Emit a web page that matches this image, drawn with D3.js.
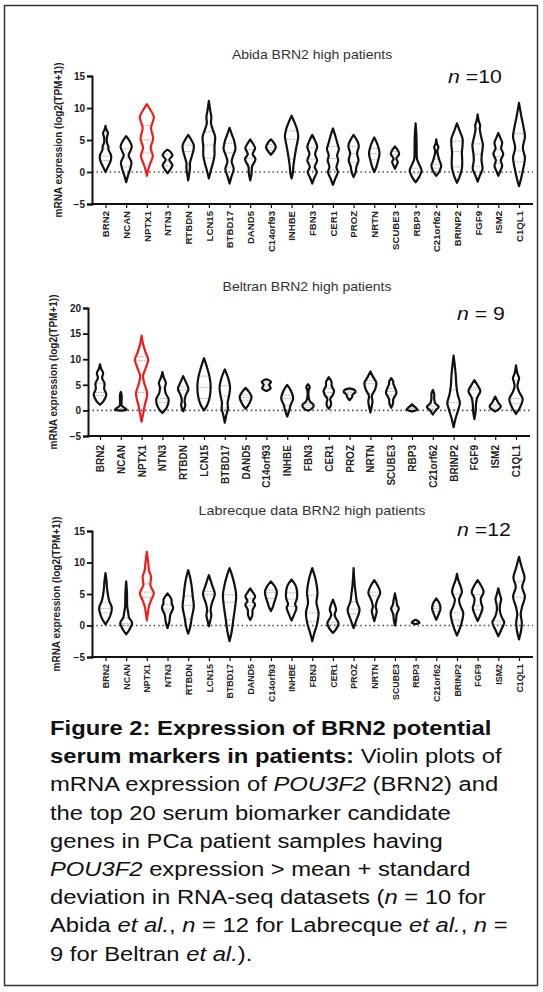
<!DOCTYPE html>
<html>
<head>
<meta charset="utf-8">
<script src="https://cdn.jsdelivr.net/npm/d3@7"></script>
<style>
  body { margin: 0; background: #fff; }
  text { font-family: Arial, "Liberation Sans", sans-serif; }
</style>
</head>
<body>
<svg id="fig" width="543" height="992"></svg>
<script>
// gene order on every x axis
const genes = ["BRN2", "NCAN", "NPTX1", "NTN3", "RTBDN", "LCN15", "BTBD17", "DAND5", "C14orf93", "INHBE",
  "FBN3", "CER1", "PROZ", "NRTN", "SCUBE3", "RBP3", "C21orf62", "BRINP2", "FGF9", "ISM2", "C1QL1"];
const highlightGene = "NPTX1";

// violin outlines: [log2(TPM+1), relative density]
const abidaViolins = [
  [[0,0],[0.8,0.35],[1.8,0.75],[2.6,0.8],[3.4,0.45],[4,0.4],[4.6,0.2],[5.4,0.2],[6.1,0.35],[6.6,0.15],[7.2,0]],
  [[-1.6,0],[-0.6,0.25],[0.6,0.6],[1.5,0.75],[2.6,0.35],[3.4,0.65],[4,0.8],[4.8,0.5],[5.6,0]],
  [[-0.6,0],[0.4,0.2],[1.4,0.5],[2.5,0.85],[3.8,0.55],[5.2,0.9],[6.9,0.6],[8.6,1],[9.8,0.45],[10.6,0]],
  [[-0.2,0],[0.5,0.45],[1.1,0.7],[1.9,0.25],[2.6,0.7],[3.1,0.45],[3.5,0]],
  [[-1.3,0],[-0.3,0.15],[0.6,0.25],[1.4,0.25],[2.4,0.5],[3.4,0.75],[4.2,0.8],[5,0.45],[5.8,0]],
  [[-1,0],[0.3,0.3],[1.5,0.6],[2.6,0.8],[4,0.8],[5.5,0.9],[6.5,0.6],[7.6,0.3],[8.6,0.35],[9.6,0.2],[11.1,0]],
  [[-1.8,0],[-0.8,0.25],[0.5,0.6],[1.6,0.3],[2.5,0.5],[3.6,0.85],[4.7,0.7],[5.8,0.35],[6.9,0]],
  [[-1.3,0],[-0.2,0.2],[0.8,0.25],[2,0.75],[2.8,0.35],[3.7,0.7],[4.4,0.4],[5.1,0]],
  [[2.7,0],[3.3,0.45],[3.9,0.7],[4.5,0.45],[5.1,0]],
  [[-1,0],[0,0.2],[0.8,0.25],[2.4,0.45],[4,0.7],[5.5,0.95],[6.6,0.8],[7.8,0.4],[8.8,0]],
  [[-1.8,0],[-0.9,0.3],[0,0.65],[0.8,0.35],[1.8,0.7],[2.8,0.4],[3.9,0.7],[4.9,0.4],[5.8,0]],
  [[-2,0],[-1,0.35],[0,0.7],[0.8,0.5],[1.8,0.75],[2.6,0.6],[3.6,0.85],[4.6,0.6],[5.8,0.3],[6.8,0]],
  [[-0.8,0],[0,0.3],[0.8,0.4],[1.8,0.7],[2.9,0.5],[4.1,0.75],[5,0.45],[5.8,0]],
  [[0,0],[0.8,0.3],[1.8,0.55],[2.9,0.75],[3.8,0.6],[4.6,0.35],[5.4,0]],
  [[0.5,0],[1.1,0.25],[1.6,0.4],[2.1,0.2],[2.8,0.6],[3.4,0.4],[4,0]],
  [[-1.6,0],[-0.8,0.5],[0.2,0.85],[1.2,0.5],[2,0.2],[3.5,0.15],[5.5,0.12],[7.6,0]],
  [[-0.6,0],[0.1,0.45],[1,0.7],[1.8,0.45],[2.8,0.2],[3.3,0.15],[3.9,0.3],[4.4,0.1],[5.1,0]],
  [[-1.7,0],[-0.8,0.35],[0.5,0.7],[1.8,0.75],[3,0.7],[4.2,0.8],[5.2,0.8],[6.4,0.4],[7.6,0]],
  [[-1.5,0],[-0.6,0.3],[0.5,0.7],[1.8,0.55],[2.8,0.6],[4.2,0.75],[5.5,0.5],[6.7,0.3],[7.3,0.35],[8,0.15],[9,0]],
  [[-0.6,0],[0.2,0.3],[1,0.55],[1.8,0.35],[2.8,0.7],[3.7,0.4],[4.6,0.55],[5.3,0.3],[6.1,0]],
  [[-2.2,0],[-1,0.3],[0.5,0.6],[2.2,0.85],[3.8,0.55],[5.5,0.85],[7,0.65],[8.6,0.35],[10.8,0]]
];
const beltranViolins = [
  [[1.1,0],[1.8,0.5],[3.1,0.9],[4.2,0.6],[5.3,0.65],[6.3,0.3],[7.3,0.45],[8,0.2],[9,0]],
  [[-0.05,0],[0.15,0.85],[0.45,0.6],[0.9,0.15],[2,0.12],[3,0.12],[3.6,0]],
  [[-2.2,0],[-0.8,0.2],[1,0.45],[3.3,0.8],[5.2,0.4],[6.7,0.2],[8.3,0.6],[9.9,0.95],[11.4,0.55],[13,0.2],[14.6,0]],
  [[-0.5,0],[0.5,0.6],[2.1,0.9],[3.4,0.45],[4.4,0.35],[5.4,0.5],[6.4,0.2],[7.5,0]],
  [[-0.2,0],[0.5,0.2],[1.1,0.3],[1.8,0.2],[2.9,0.35],[4.2,0.75],[5.3,0.45],[6.7,0]],
  [[0,0],[1,0.45],[2.5,0.8],[4.5,0.95],[6.5,0.8],[8.3,0.45],[10.2,0]],
  [[-2.4,0],[-1,0.2],[0.4,0.45],[1.5,0.4],[2.8,0.6],[4.5,0.75],[6.2,0.5],[8,0]],
  [[0.3,0],[1.3,0.5],[2.6,0.85],[3.5,0.55],[4.4,0]],
  [[3.8,0],[4.3,0.6],[5,0.4],[5.6,0.65],[6.1,0]],
  [[-1.2,0],[0,0.3],[1.1,0.5],[2.3,0.85],[3.8,0.55],[5,0]],
  [[-0.05,0],[0.4,0.6],[1.1,0.8],[1.7,0.3],[2.5,0.1],[4,0.1],[4.6,0.25],[5.1,0]],
  [[0.3,0],[1,0.3],[1.6,0.3],[2.2,0.2],[3.1,0.6],[3.8,0.75],[4.8,0.4],[5.5,0.4],[6.5,0]],
  [[2,0],[2.6,0.35],[3.1,0.45],[3.6,0.85],[4,0.7],[4.3,0]],
  [[-0.4,0],[0.8,0.2],[1.8,0.3],[2.8,0.2],[4.2,0.7],[5.4,0.85],[6.5,0.4],[7.6,0]],
  [[0.5,0],[1.3,0.25],[2.2,0.3],[3.4,0.75],[4.2,0.6],[5.2,0.3],[5.6,0.3],[6.3,0]],
  [[-0.2,0],[0.15,0.75],[0.5,0.55],[0.9,0.2],[1.2,0]],
  [[-0.8,0],[0,0.4],[0.7,0.85],[1.4,0.35],[2.2,0.2],[3.2,0.2],[4,0]],
  [[-3.3,0],[-1.5,0.3],[0.3,0.7],[1.5,0.9],[3,0.6],[4.8,0.4],[7,0.3],[9,0.15],[10.7,0]],
  [[-1.7,0],[-0.5,0.15],[0.5,0.2],[1.5,0.25],[2.5,0.4],[3.8,0.85],[4.9,0.45],[5.9,0]],
  [[-0.2,0],[0.3,0.6],[0.8,0.8],[1.6,0.4],[2.7,0]],
  [[-0.7,0],[0.4,0.5],[2.2,0.95],[3.6,0.45],[4.7,0.2],[5.5,0.3],[6.3,0.45],[7.2,0.2],[8.8,0]]
];
const labrecqueViolins = [
  [[0.2,0],[1.2,0.55],[2.8,0.9],[4,0.5],[5.6,0.25],[7,0.15],[8.3,0]],
  [[-1.4,0],[-0.6,0.5],[0.4,0.85],[1.3,0.4],[2,0.3],[3,0.15],[5,0.12],[7,0]],
  [[0.8,0],[2,0.15],[3,0.3],[4,0.6],[5.1,1],[6.4,0.5],[7.7,0.6],[8.8,0.3],[10,0.2],[11.7,0]],
  [[-0.4,0],[0.5,0.25],[1.7,0.4],[2.8,0.8],[3.5,0.6],[4.2,0.55],[5.1,0]],
  [[-1.3,0],[-0.2,0.3],[1.2,0.5],[3,0.8],[4.6,0.65],[6.2,0.5],[7.5,0.3],[8.8,0]],
  [[-0.1,0],[0.8,0.2],[1.6,0.35],[2.5,0.25],[3.6,0.45],[5,0.85],[6.3,0.5],[8,0]],
  [[-2.5,0],[-1,0.3],[1,0.55],[3,0.8],[4.8,0.95],[6.5,0.7],[8,0.35],[9.1,0]],
  [[0.9,0],[1.6,0.3],[2.5,0.35],[3.3,0.7],[3.9,0.4],[4.6,0.7],[5.3,0.35],[5.9,0]],
  [[2.3,0],[3,0.3],[3.6,0.45],[4.4,0.7],[5.4,0.85],[6.3,0.5],[7,0]],
  [[0.8,0],[1.7,0.35],[2.8,0.7],[3.4,0.5],[4.2,0.75],[5.2,0.8],[6.3,0.6],[7.3,0]],
  [[-2.5,0],[-1.2,0.3],[0.3,0.7],[2,0.9],[3.6,0.6],[5.2,0.75],[7.2,0.5],[9.1,0]],
  [[-1.2,0],[-0.5,0.5],[0.4,0.8],[1.2,0.4],[1.8,0.25],[2.5,0.45],[3.2,0.3],[4.1,0]],
  [[-0.4,0],[0.7,0.35],[2.5,0.85],[3.8,0.45],[5.1,0.3],[6.5,0.15],[9.1,0]],
  [[0.7,0],[1.5,0.2],[2.3,0.35],[3,0.2],[4.1,0.45],[5.2,0.85],[6.2,0.55],[7.2,0]],
  [[0,0],[0.8,0.15],[1.8,0.25],[2.7,0.55],[3.3,0.3],[4,0.2],[5.1,0]],
  [[0.2,0],[0.45,0.55],[0.7,0.35],[0.9,0]],
  [[0.9,0],[1.7,0.3],[2.7,0.6],[3.5,0.45],[4.3,0]],
  [[-1.6,0],[-0.5,0.4],[0.8,0.75],[2,0.9],[3.1,0.5],[4.1,0.3],[5.3,0.7],[6.3,0.5],[7.2,0.2],[8.2,0]],
  [[0.7,0],[1.6,0.35],[2.8,0.7],[3.6,0.5],[4.3,0.45],[5.3,0.85],[6.3,0.5],[7.2,0]],
  [[-1.7,0],[-0.6,0.45],[0.5,0.85],[1.4,0.45],[2.5,0.2],[3.3,0.25],[4.2,0.4],[5,0.2],[5.9,0]],
  [[-2.2,0],[-0.8,0.3],[0.5,0.4],[1.8,0.25],[3,0.45],[4.6,0.85],[6.1,0.45],[7.6,0.8],[9.2,0.4],[10.9,0]]
];

// quartile lines [q1, median, q3]
const abidaQuartiles = [[1.8,2.5,3.6],[0.8,2.2,3.6],[3,5,7.3],[1,1.9,2.7],[1.3,3.2,4.2],[2.2,4.2,6.3],[0.8,3,4.5],
  [1.2,2.1,3.5],[3.4,3.9,4.3],[2,5.1,6.4],[0.2,2,3.8],[0.3,2.1,4],[1.5,2.9,4],[1.9,2.9,3.7],[1.9,2.7,3.2],
  [-0.2,0.6,3.8],[0.6,1.2,2],[0.8,3.2,4.8],[0.9,2.8,4.4],[1.3,2.4,3.5],[1.6,3.3,6]];
const beltranQuartiles = [[2.9,3.5,5.3],[0.1,0.2,0.4],[3.5,9.7,10.5],[1.5,2.3,4.4],[2.5,4,4.6],[2.3,4.5,6.7],
  [0.5,2.8,4.8],[2,2.5,3],[4.6,5.1,5.5],[1,2.3,3],[0.6,1,1.3],[2.7,3.5,4.3],[3.1,3.5,3.8],[3.3,5.2,5.8],
  [2.9,3.7,4.3],[0.1,0.3,0.5],[0.3,0.8,1.3],[0.2,1.5,4],[2.5,4,4.4],[0.3,0.7,1.1],[1.3,2.3,5.8]];
const labrecqueQuartiles = [[2,2.7,3.6],[0,0.3,1.2],[4.5,5.3,6.6],[2.1,2.6,3.3],[1,3.2,4.7],[2.2,4.9,5.4],
  [0.9,3.7,4.9],[3.2,3.7,4.3],[4.3,5.2,5.6],[3,4.2,5.2],[0.6,2,4.8],[0.2,0.5,1.6],[1.8,2.6,3.8],[3,4.7,5.3],
  [1.8,2.6,3],[0.4,0.5,0.6],[2.3,2.7,3.1],[0.9,2,5],[2.5,3.2,4.9],[0.2,0.7,3.5],[1.7,4.5,7]];

const ticks15 = [-5, 0, 5, 10, 15];
const ticks20 = [-5, 0, 5, 10, 15, 20];

const captionLines = [
  [["Figure 2: Expression of BRN2 potential", "b"]],
  [["serum markers in patients:", "b"], [" Violin plots of", ""]],
  [["mRNA expression of ", ""], ["POU3F2", "i"], [" (BRN2) and", ""]],
  [["the top 20 serum biomarker candidate", ""]],
  [["genes in PCa patient samples having", ""]],
  [["POU3F2", "i"], [" expression > mean + standard", ""]],
  [["deviation in RNA-seq datasets (", ""], ["n", "i"], [" = 10 for", ""]],
  [["Abida ", ""], ["et al.", "i"], [", ", ""], ["n", "i"], [" = 12 for Labrecque ", ""], ["et al.", "i"], [", ", ""], ["n", "i"], [" =", ""]],
  [["9 for Beltran ", ""], ["et al.", "i"], [").", ""]]
];

const svg = d3.select("#fig");

// outer frame
svg.append("rect")
  .attr("x", 4.5).attr("y", 5.5).attr("width", 533).attr("height", 980)
  .attr("fill", "none").attr("stroke", "#333").attr("stroke-width", 1.5);

const drawPanel = (cfg) => {
  const g = svg.append("g");
  const y = d3.scaleLinear().domain(cfg.domain).range([cfg.bottom, cfg.top]);
  const x = d3.scalePoint().domain(genes).range([cfg.first, cfg.last]);
  const w = d3.scaleLinear().domain([0, 1]).range([0, 7]);

  // title (source image is a bit stretched sideways)
  g.append("text")
    .attr("transform", `translate(${cfg.titleX},${cfg.titleY}) scale(1.12,1)`)
    .attr("text-anchor", "middle").attr("font-size", cfg.titleSize).attr("fill", "#333")
    .text(cfg.title);

  // n label
  const nt = g.append("text")
    .attr("transform", `translate(${cfg.nX},${cfg.nY}) scale(1.12,1)`)
    .attr("font-size", 19).attr("fill", "#111");
  nt.append("tspan").attr("font-style", "italic").text("n");
  nt.append("tspan").text(cfg.nText);

  // zero line
  g.append("line")
    .attr("x1", cfg.axisX).attr("x2", cfg.axisEnd)
    .attr("y1", y(0)).attr("y2", y(0))
    .attr("stroke", "#555").attr("stroke-width", 1.6)
    .attr("stroke-dasharray", "1.6,2.8");

  // y axis
  const yAxis = g.append("g")
    .attr("transform", `translate(${cfg.axisX},0)`)
    .call(d3.axisLeft(y).tickValues(cfg.ticks).tickSize(5).tickPadding(2).tickFormat(d3.format("d")));
  yAxis.select(".domain").attr("stroke", "#111").attr("stroke-width", 2);
  yAxis.selectAll(".tick line").attr("stroke", "#111").attr("stroke-width", 1.8);
  yAxis.selectAll(".tick text")
    .attr("font-size", 10).attr("font-weight", "bold").attr("fill", "#222")
    .style("font-family", "Arial, 'Liberation Sans', sans-serif");

  // x axis
  const xAxis = g.append("g")
    .attr("transform", `translate(0,${cfg.bottom})`)
    .call(d3.axisBottom(x).tickSize(4).tickPadding(3));
  xAxis.select(".domain").remove();
  xAxis.append("line")
    .attr("x1", cfg.axisX - 1).attr("x2", cfg.axisEnd)
    .attr("stroke", "#111").attr("stroke-width", 2);
  xAxis.selectAll(".tick line").attr("stroke", "#111").attr("stroke-width", 1.2);
  xAxis.selectAll(".tick text")
    .attr("font-size", cfg.labelSize).attr("font-weight", "bold").attr("fill", "#222")
    .style("font-family", "Arial, 'Liberation Sans', sans-serif")
    .attr("text-anchor", "end")
    .attr("dy", "0.35em")
    .attr("transform", `translate(0,${cfg.labelOffset}) rotate(-90)`)
    .attr("x", 0).attr("y", 0);

  // y axis title
  g.append("text")
    .attr("transform", `translate(${cfg.yTitleX},${(cfg.top + cfg.bottom) / 2}) rotate(-90)`)
    .attr("text-anchor", "middle").attr("font-size", 10).attr("font-weight", "bold").attr("fill", "#222")
    .text("mRNA expression (log2(TPM+1))");

  // violins
  genes.forEach((gene, i) => {
    const cx = x(gene);
    const prof = cfg.violins[i];
    const color = gene === highlightGene ? "#ee1c1c" : "#111";
    const area = d3.area()
      .curve(d3.curveCatmullRom.alpha(0.5))
      .y(d => y(d[0]))
      .x0(d => cx - w(d[1]))
      .x1(d => cx + w(d[1]));

    // quartile dashes
    const widthAt = v => {
      for (let k = 1; k < prof.length; k++) {
        if (v <= prof[k][0]) {
          const [a, da] = prof[k - 1], [b, db] = prof[k];
          return w(da + (db - da) * (v - a) / (b - a));
        }
      }
      return 0;
    };
    cfg.quartiles[i].forEach(q => {
      const hw = Math.max(widthAt(q) - 1, 0.8);
      g.append("line")
        .attr("x1", cx - hw).attr("x2", cx + hw)
        .attr("y1", y(q)).attr("y2", y(q))
        .attr("stroke", gene === highlightGene ? "#f07070" : "#999")
        .attr("stroke-width", 0.8)
        .attr("stroke-dasharray", "1.5,1");
    });

    g.append("path")
      .datum(prof)
      .attr("d", area)
      .attr("fill", "none")
      .attr("stroke", color)
      .attr("stroke-width", 2.2)
      .attr("stroke-linejoin", "round");
  });
};

drawPanel({
  title: "Abida BRN2 high patients", titleX: 312, titleY: 59, titleSize: 12.5,
  nText: " =10", nX: 448, nY: 83,
  domain: [-5, 15], ticks: ticks15, top: 76, bottom: 204,
  axisX: 92, axisEnd: 533, first: 105.5, last: 519,
  labelSize: 9.6, labelOffset: 7, yTitleX: 62,
  violins: abidaViolins, quartiles: abidaQuartiles
});

drawPanel({
  title: "Beltran BRN2 high patients", titleX: 307, titleY: 291, titleSize: 12.5,
  nText: " = 9", nX: 457, nY: 320,
  domain: [-5, 20], ticks: ticks20, top: 308, bottom: 436,
  axisX: 88, axisEnd: 530, first: 100, last: 516,
  labelSize: 10, labelOffset: 9, yTitleX: 57,
  violins: beltranViolins, quartiles: beltranQuartiles
});

drawPanel({
  title: "Labrecque data BRN2 high patients", titleX: 312, titleY: 515, titleSize: 12.8,
  nText: " =12", nX: 457, nY: 536,
  domain: [-5, 15], ticks: ticks15, top: 531, bottom: 657,
  axisX: 92, axisEnd: 533, first: 105.5, last: 519,
  labelSize: 8.9, labelOffset: 7, yTitleX: 60,
  violins: labrecqueViolins, quartiles: labrecqueQuartiles
});

// caption, stretched sideways like the source image
const cap = svg.append("g");
captionLines.forEach((line, i) => {
  const t = cap.append("text")
    .attr("transform", `translate(50,${735 + i * 28.2}) scale(1.19,1)`)
    .attr("font-size", 20).attr("fill", "#111");
  line.forEach(([s, style]) => {
    const sp = t.append("tspan").text(s);
    if (style === "b") sp.attr("font-weight", "bold");
    if (style === "i") sp.attr("font-style", "italic");
  });
});
</script>
</body>
</html>
